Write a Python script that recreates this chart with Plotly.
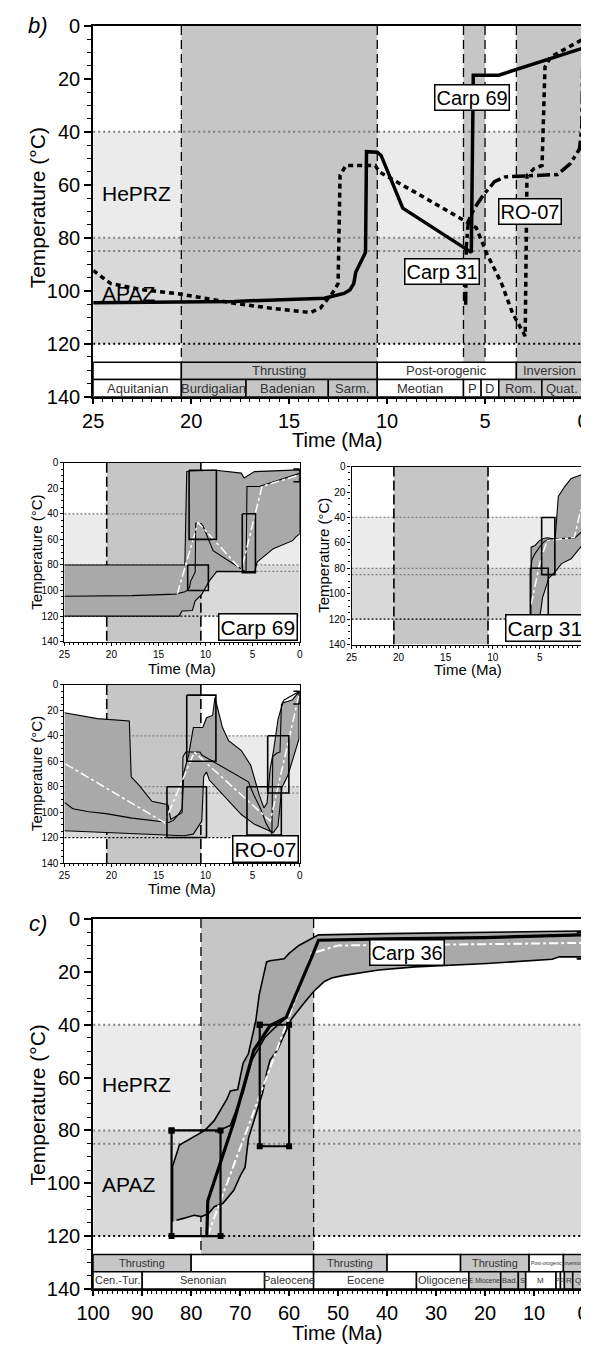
import plotly.graph_objects as go

# the page adds an 8 px body margin, so the figure is made smaller and all
# pixel positions (measured on the reference) are shifted by that margin
OFF = 8
W, H = 589 - OFF, 1356 - OFF
FONT = "Liberation Sans, Arial, sans-serif"
GREY_COL = "#c6c6c6"
HEPRZ_FILL = "#ebebeb"
APAZ_FILL = "#d9d9d9"
ENV_FILL = "#a9a9a9"

# ------------------------------------------------------------------ data
HEPRZ = [40, 80]
APAZ = [80, 120]
ZONE_LINES = [40, 80, 85]
ZONE_BASE = 120

# panel b : best-fit thermal paths (time Ma, temperature degC)
b_carp69_time = [25, 17.8, 13.2, 12.2, 11.9, 11.7, 11.6, 11.1, 11.05, 10.5, 10.3, 9.2, 5.7, 5.6, 4.3, 0]
b_carp69_temp = [104.5, 104, 102.8, 101, 99.7, 97.3, 93, 85.5, 47.5, 47.7, 49, 68.8, 85.5, 18.6, 18.6, 8.4]
b_carp31_time = [5.99, 5.96, 5.85, 5.54, 5.08, 4.52, 3.97, 1.29, 0.65, 0.18, 0.06, 0.0]
b_carp31_temp = [105.3, 83.6, 73.7, 68.8, 63.8, 58.8, 57, 56.1, 52, 46.5, 37.8, 6.8]
b_ro07_time = [25, 24.1, 22.4, 20.6, 17.8, 16, 13.9, 13.4, 12.8, 12.5, 12.4, 12.1, 10.6, 10.4, 6.0,
               5.45, 4.9, 4.15, 3.6, 2.95, 2.86, 2.5, 2.09, 1.94, 1.66, 1.2, 0.09, 0]
b_ro07_temp = [92.3, 97.3, 99.7, 101.2, 104.7, 106.5, 108.2, 106.5, 101, 97.3, 56.4, 52.7, 52.7, 55.1, 73.7,
               76.2, 86.1, 97.3, 108.4, 117.1, 56.4, 53.9, 52.7, 15.5, 11.8, 9.9, 5.6, 5]

# panel b : tectonic columns and chronostratigraphic table
b_columns = [[20.5, 10.5], [6.1, 5.0], [3.4, 0]]
b_dashed = [20.5, 10.5, 6.1, 5.0, 3.4]
b_phase_from = [25, 20.5, 10.5, 3.4]
b_phase_to = [20.5, 10.5, 3.4, 0]
b_phase_name = ["", "Thrusting", "Post-orogenic", "Inversion"]
b_phase_grey = [False, True, False, True]
b_stage_from = [25, 20.5, 17.2, 13.0, 10.5, 6.1, 5.2, 4.3, 2.1]
b_stage_to = [20.5, 17.2, 13.0, 10.5, 6.1, 5.2, 4.3, 2.1, 0]
b_stage_name = ["Aquitanian", "Burdigalian", "Badenian", "Sarm.", "Meotian", "P", "D", "Rom.", "Quat."]
b_stage_grey = [False, True, True, True, False, False, False, True, True]

# small panels : thrusting column
s_columns = [[20.5, 10.5]]
s_dashed = [20.5, 10.5]

# Carp 69 model
c69_env_time = [25, 12.2, 12.0, 11.75, 8.9, 6.2, 5.9, 5.5, 4.8, 0, 0, 0.4, 0.75, 2.8, 4.5, 4.8, 8.8,
                9.6, 10.4, 11.1, 11.4, 12.5, 12.8, 25]
c69_env_temp = [80, 80, 7, 6.5, 6, 8.2, 12, 10, 7, 5.7, 55.7, 58, 61, 67.3, 77.6, 85.2, 85,
                92.5, 103, 108, 115.6, 116, 120, 120]
c69_mean_time = [13, 10.8, 6.2, 4, 0]
c69_mean_temp = [102.7, 46.8, 84, 18.5, 9.5]
c69_box_t0 = [11.75, 11.9, 6.1]
c69_box_t1 = [8.85, 9.7, 4.7]
c69_box_T0 = [6, 80, 40]
c69_box_T1 = [60, 100, 86]

# Carp 31 model
c31_env_time = [5.95, 5.92, 5.5, 5.0, 4.6, 4.2, 3.37, 3.19, 3.03, 2.35, 1.67, 0.64, 0.3,
                0.3, 0.65, 1.67, 2.69, 3.37, 4.05, 4.39, 4.72, 4.9, 5.0]
c31_env_temp = [117.5, 63.4, 62, 58, 56.5, 56, 57, 38.9, 23.4, 15.7, 9.3, 6.7, 6,
                60, 63.4, 72.5, 76.3, 82.8, 87.9, 95.6, 103.4, 113.7, 117.5]
c31_mean_time = [5.92, 4.9, 4.2, 1.33, 0.64]
c31_mean_temp = [108.5, 72.5, 58.2, 55.7, 33.8]
c31_box_t0 = [6.0, 4.8]
c31_box_t1 = [4.1, 3.4]
c31_box_T0 = [80, 40]
c31_box_T1 = [120, 85]

# RO-07 model
ro_env_time = [25, 21.5, 18.1, 17.9, 17.1, 15.7, 14.0, 13.7, 12.5, 12.3, 11.8, 11.3, 10.3, 9.9, 9.25,
               9.0, 8.6, 8.2, 7.55, 6.2, 5.2, 4.3, 3.8, 3.47, 3.13, 2.8, 2.3, 1.8, 0.75, 0.07,
               0.07, 0.6, 1.25, 1.9, 2.3, 2.8, 3.8, 4.8, 6.2, 8.2, 9.6, 9.9, 10.2, 10.4, 11.3,
               12.3, 14.7, 19.8, 25]
ro_env_temp = [21.9, 26.5, 28.4, 72.2, 78.6, 91.5, 94.1, 105.7, 100.5, 68.3, 55.4, 33.5, 33.5, 25.8, 24,
               10, 21.7, 33.5, 43.8, 51.6, 63.2, 86.4, 96.7, 92.8, 65.7, 52.7, 27, 14.2, 11.6, 5.2,
               42.5, 55.4, 71, 81, 111, 116, 113, 109.6, 101.9, 86.4, 74.8, 68.3, 72, 107, 117.3,
               118.6, 117.8, 116, 114.7]
ro_mean_time = [24.9, 14.35, 11.2, 3.13, 0.07]
ro_mean_temp = [62, 108.3, 52.8, 107, 7.7]
ro_box_t0 = [14.1, 12.0, 5.6, 3.4]
ro_box_t1 = [9.9, 8.9, 1.95, 1.15]
ro_box_T0 = [80, 8, 80, 40]
ro_box_T1 = [120, 60, 118, 85]

# present-day surface temperature constraint
present_time = [0, 0]
present_temp = [5, 15]

# panel c : Carp 36 model
c36_env_time = [83.8, 83.8, 82.4, 80.1, 77.2, 75.3, 73.9, 72.7, 72, 70.5, 69.4, 68.3, 66.8, 66.1, 64.6,
                63.9, 61, 60, 58, 56, 54, 40, 20, 0,
                0, 4.8, 6.3, 19.6, 34.3, 41.7, 49.1, 51.3, 52.8, 55, 57.2, 59.5, 60.6, 62.4, 63.9,
                64.6, 65.4, 66.8, 68.3, 69, 69.8, 71.3, 73.5, 75.3, 76.4, 77.9, 79.4, 81.6, 83]
c36_env_temp = [114.6, 93.6, 85.5, 83, 80, 76.3, 71.9, 68.2, 65.1, 64.5, 54.6, 50.9, 38.5, 28.6, 16.2,
                15.8, 15, 13, 10, 8, 6, 5.5, 5, 4.5,
                14.3, 14.3, 15.2, 16.8, 18.1, 19.3, 21.4, 22.3, 23.6, 27.4, 32.3, 37.8, 42.2, 49.6, 53.4,
                58.3, 65.7, 74.4, 83, 94, 96.5, 102.7, 107.6, 108.9, 111.4, 112.6, 112.1, 113.3, 114]
c36_best_time = [76.8, 76.6, 71.3, 67.2, 63.9, 60.6, 55.4, 54, 40, 20, 0]
c36_best_temp = [120, 106.6, 76.9, 49.6, 40.4, 37.2, 14.4, 8, 7.5, 7, 6]
c36_good_time = [75.1, 72.0, 69.4, 67.6, 64.9, 63.2, 60.9]
c36_good_temp = [80.6, 78.1, 65.7, 53.4, 44.7, 41.6, 37.9]
c36_mean_time = [76.7, 60.2, 55.4, 50, 20, 0]
c36_mean_temp = [120, 38, 13, 10, 9.5, 9]
c36_box_t0 = [84, 66]
c36_box_t1 = [74, 60]
c36_box_T0 = [80, 40]
c36_box_T1 = [120, 86]

c_columns = [[78, 55]]
c_dashed = [78, 55]
c_phase_from = [100, 80, 55, 40, 25, 11, 4]
c_phase_to = [80, 55, 40, 25, 11, 4, 0]
c_phase_name = ["Thrusting", "", "Thrusting", "", "Thrusting", "Post-orogenic", "Inversion"]
c_phase_grey = [True, False, True, False, True, False, True]
c_phase_size = [11, 11, 11, 11, 11, 5, 5]
c_stage_from = [100, 90, 65, 55, 34, 23.3, 16.8, 13.2, 11.7, 5.5, 4.6, 3.8, 2.1]
c_stage_to = [90, 65, 55, 34, 23.3, 16.8, 13.2, 11.7, 5.5, 4.6, 3.8, 2.1, 0]
c_stage_name = ["Cen.-Tur.", "Senonian", "Paleocene", "Eocene", "Oligocene", "E Miocene", "Bad.", "S",
                "M", "P", "D", "R", "Q"]
c_stage_grey = [False, False, False, False, False, True, True, True, False, False, False, True, True]
c_stage_size = [11, 11, 11, 11, 11, 6.5, 7.5, 8, 8, 5, 5, 8, 8]

TABLE_TOP, TABLE_MID, TABLE_BOT = 127, 133.5, 140

# ------------------------------------------------------------------ figure
fig = go.Figure()
shapes = []
annotations = []


def names(n):
    return ("x", "y") if n == 1 else (f"x{n}", f"y{n}")


def trace(n, t, T, color="black", width=1.2, dash="solid", fill=None, fillcolor=None,
          mode="lines", marker=None):
    xa, ya = names(n)
    fig.add_trace(go.Scatter(x=t, y=T, mode=mode, line=dict(color=color, width=width, dash=dash),
                             fill=fill, fillcolor=fillcolor, marker=marker,
                             xaxis=xa, yaxis=ya, showlegend=False, hoverinfo="skip"))


def rect(n, x0, x1, y0, y1, fill, lw=0.0):
    xa, ya = names(n)
    shapes.append(dict(type="rect", xref=xa, yref=ya, x0=x0, x1=x1, y0=y0, y1=y1,
                       fillcolor=fill, line=dict(width=lw, color="black"), layer="below"))


def seg(n, x0, x1, y0, y1, color, width, dash):
    xa, ya = names(n)
    shapes.append(dict(type="line", xref=xa, yref=ya, x0=x0, x1=x1, y0=y0, y1=y1,
                       line=dict(color=color, width=width, dash=dash), layer="below"))


def text(n, x, y, s, size, color="black", **kw):
    xa, ya = names(n)
    annotations.append(dict(xref=xa, yref=ya, x=x, y=y, text=s, showarrow=False,
                            font=dict(family=FONT, size=size, color=color), **kw))


def fx(px):
    return (px - OFF) / W


def fy(py):
    return 1 - (py - OFF) / H


def ptext(px, py, s, size, angle=0, **kw):
    annotations.append(dict(xref="paper", yref="paper", x=fx(px), y=fy(py), text=s,
                            showarrow=False, textangle=angle, xanchor="center", yanchor="middle",
                            font=dict(family=FONT, size=size, color="black"), **kw))


panels = [
    dict(n=1, xpx=(79, 589), ypx=(15, 392), xr=[25, 0], big=True, xdt=5, xminor=0.5,
         cols=b_columns, dashed=b_dashed, ctop=TABLE_TOP, mirror_y=True),
    dict(n=2, xpx=(49, 294), ypx=(459, 641), xr=[25, 0], big=False, xdt=5, xminor=0.5,
         cols=s_columns, dashed=s_dashed, ctop=140, mirror_y=True),
    dict(n=3, xpx=(348, 589), ypx=(463, 644), xr=[25, 25 - (589 - 348) / 9.8], big=False, xdt=5,
         xminor=0.5, cols=s_columns, dashed=s_dashed, ctop=140, mirror_y=False),
    dict(n=4, xpx=(49, 294), ypx=(685, 866), xr=[25, 0], big=False, xdt=5, xminor=0.5,
         cols=s_columns, dashed=s_dashed, ctop=140, mirror_y=True),
    dict(n=5, xpx=(79, 589), ypx=(923, 1299), xr=[100, 0], big=True, xdt=10, xminor=1,
         cols=c_columns, dashed=c_dashed, ctop=TABLE_TOP, mirror_y=True),
]

layout_axes = {}
for p in panels:
    n, big = p["n"], p["big"]
    x_lo, x_hi = p["xr"][0], min(p["xr"][1], 0)
    rect(n, x_lo, x_hi, HEPRZ[0], HEPRZ[1], HEPRZ_FILL)
    rect(n, x_lo, x_hi, APAZ[0], APAZ[1], APAZ_FILL)
    for a, b in p["cols"]:
        rect(n, a, b, 0, p["ctop"], GREY_COL)
    dot = "2px,3px" if big else "2px,2px"
    for z in ZONE_LINES:
        seg(n, x_lo, x_hi, z, z, "#808080", 2 if big else 1.2, dot)
    seg(n, x_lo, x_hi, ZONE_BASE, ZONE_BASE, "black", 2 if big else 1.2, dot)
    for d in p["dashed"]:
        seg(n, d, d, 0, p["ctop"], "black", 1.3 if big else 1.6, "9px,5px" if big else "10px,4px")

    xk = "xaxis" if n == 1 else f"xaxis{n}"
    yk = "yaxis" if n == 1 else f"yaxis{n}"
    xa, ya = names(n)
    tfont = dict(family=FONT, size=20 if big else 10, color="black")
    layout_axes[xk] = dict(
        domain=[fx(p["xpx"][0]), min(fx(p["xpx"][1]), 1)], range=p["xr"], anchor=ya,
        showgrid=False, zeroline=False, showline=True, linecolor="black",
        linewidth=2 if big else 1.2, mirror=True, ticks="outside",
        ticklen=5 if big else 3, tickwidth=2 if big else 1, tickcolor="black",
        tickmode="linear", tick0=0, dtick=p["xdt"], tickfont=tfont, ticklabeloverflow="allow",
        minor=dict(ticks="outside", ticklen=3 if big else 2, tickwidth=1.2 if big else 0.7,
                   dtick=p["xminor"], tickcolor="black", showgrid=False))
    layout_axes[yk] = dict(
        domain=[fy(p["ypx"][1]), fy(p["ypx"][0])], range=[140, 0], anchor=xa,
        showgrid=False, zeroline=False, showline=True, linecolor="black",
        linewidth=2 if big else 1.2, mirror=p["mirror_y"], ticks="outside",
        ticklen=7 if big else 3, tickwidth=2 if big else 1, tickcolor="black",
        tickmode="linear", tick0=0, dtick=20, tickfont=tfont, ticklabeloverflow="allow",
        minor=dict(ticks="outside", ticklen=4 if big else 2, tickwidth=1.2 if big else 0.7,
                   dtick=5, tickcolor="black", showgrid=False))


def table(n, pf, pt, pn, pg, sf, st, sn, sg, psize, ssize):
    for i in range(len(pf)):
        rect(n, pf[i], pt[i], TABLE_TOP, TABLE_MID, GREY_COL if pg[i] else "white", 1.5)
        if pn[i]:
            text(n, (pf[i] + pt[i]) / 2, (TABLE_TOP + TABLE_MID) / 2, pn[i], psize[i], "#333333")
    for i in range(len(sf)):
        rect(n, sf[i], st[i], TABLE_MID, TABLE_BOT, GREY_COL if sg[i] else "white", 1.5)
        text(n, (sf[i] + st[i]) / 2, (TABLE_MID + TABLE_BOT) / 2, sn[i], ssize[i], "#333333")


table(1, b_phase_from, b_phase_to, b_phase_name, b_phase_grey,
      b_stage_from, b_stage_to, b_stage_name, b_stage_grey,
      [13] * len(b_phase_name), [13] * len(b_stage_name))
table(5, c_phase_from, c_phase_to, c_phase_name, c_phase_grey,
      c_stage_from, c_stage_to, c_stage_name, c_stage_grey, c_phase_size, c_stage_size)


def boxes(n, t0, t1, T0, T1, width=1.6, corner=False):
    for i in range(len(t0)):
        trace(n, [t0[i], t1[i], t1[i], t0[i], t0[i]], [T0[i], T0[i], T1[i], T1[i], T0[i]],
              width=width, mode="lines+markers" if corner else "lines",
              marker=dict(symbol="square", size=6, color="black") if corner else None)


def present(n, width=1.5):
    trace(n, present_time, present_temp, width=width, mode="lines+markers",
          marker=dict(symbol="line-ew-open", size=9, color="black", line=dict(width=width, color="black")))


# ---- panel b paths
trace(1, b_ro07_time, b_ro07_temp, width=3.5, dash="5px,4px")
trace(1, b_carp69_time, b_carp69_temp, width=3.5)
trace(1, b_carp31_time, b_carp31_temp, width=3.5, dash="13px,4px,4px,4px")

# ---- small panels
trace(2, c69_env_time, c69_env_temp, fill="toself", fillcolor=ENV_FILL, width=1.1)
trace(2, b_carp69_time, b_carp69_temp, width=1.1)
trace(2, c69_mean_time, c69_mean_temp, color="white", width=1.5, dash="dashdot")
boxes(2, c69_box_t0, c69_box_t1, c69_box_T0, c69_box_T1)
present(2)

trace(3, c31_env_time, c31_env_temp, fill="toself", fillcolor=ENV_FILL, width=1.1)
trace(3, b_carp31_time, b_carp31_temp, width=1.1)
trace(3, c31_mean_time, c31_mean_temp, color="white", width=1.5, dash="dashdot")
boxes(3, c31_box_t0, c31_box_t1, c31_box_T0, c31_box_T1)

trace(4, ro_env_time, ro_env_temp, fill="toself", fillcolor=ENV_FILL, width=1.1)
trace(4, b_ro07_time, b_ro07_temp, width=1.1)
trace(4, ro_mean_time, ro_mean_temp, color="white", width=1.5, dash="dashdot")
boxes(4, ro_box_t0, ro_box_t1, ro_box_T0, ro_box_T1)
present(4)

# ---- panel c
trace(5, c36_env_time, c36_env_temp, fill="toself", fillcolor=ENV_FILL, width=1.6)
trace(5, c36_good_time, c36_good_temp, width=1.6)
trace(5, c36_mean_time, c36_mean_temp, color="white", width=2, dash="dashdot")
trace(5, c36_best_time, c36_best_temp, width=3.2)
boxes(5, c36_box_t0, c36_box_t1, c36_box_T0, c36_box_T1, width=2.2, corner=True)
present(5, width=2)

# ---- labels
box = dict(bgcolor="white", bordercolor="black", borderwidth=1.5, borderpad=1)
text(1, 5.68, 27, "Carp 69", 20, **box)
text(1, 7.2, 92.9, "Carp 31", 20, **box)
text(1, 2.71, 70, "RO-07", 20, **box)
text(1, 24.64, 63.1, "HePRZ", 21, xanchor="left")
text(1, 24.64, 100.9, "APAZ", 21, xanchor="left")
text(2, 4.4, 128.5, "Carp 69", 21, **box)
text(3, 4.45, 126.8, "Carp 31", 21, **box)
text(4, 3.67, 129, "RO-07", 21, **box)
text(5, 36, 12.5, "Carp 36", 20, **box)
text(5, 98.6, 62.6, "HePRZ", 21, xanchor="left")
text(5, 98.6, 100.4, "APAZ", 21, xanchor="left")

ptext(21, 200, "Temperature (°C)", 21, angle=-90)
ptext(333, 436, "Time (Ma)", 20)
ptext(20, 550, "Temperature (°C)", 15, angle=-90)
ptext(171, 668, "Time (Ma)", 15)
ptext(318, 553, "Temperature (°C)", 15, angle=-90)
ptext(469, 669, "Time (Ma)", 15)
ptext(20, 775, "Temperature (°C)", 15, angle=-90)
ptext(171, 892, "Time (Ma)", 15)
ptext(21, 1112, "Temperature (°C)", 21, angle=-90)
ptext(333, 1344, "Time (Ma)", 20)
ptext(22, 15, "<i>b)</i>", 22)
ptext(22, 928, "<i>c)</i>", 22)

fig.update_layout(width=W, height=H, autosize=False, margin=dict(l=0, r=0, t=0, b=0),
                  paper_bgcolor="white", plot_bgcolor="white", showlegend=False,
                  font=dict(family=FONT, color="black"),
                  shapes=shapes, annotations=annotations, **layout_axes)
fig.write_html("out.html")
